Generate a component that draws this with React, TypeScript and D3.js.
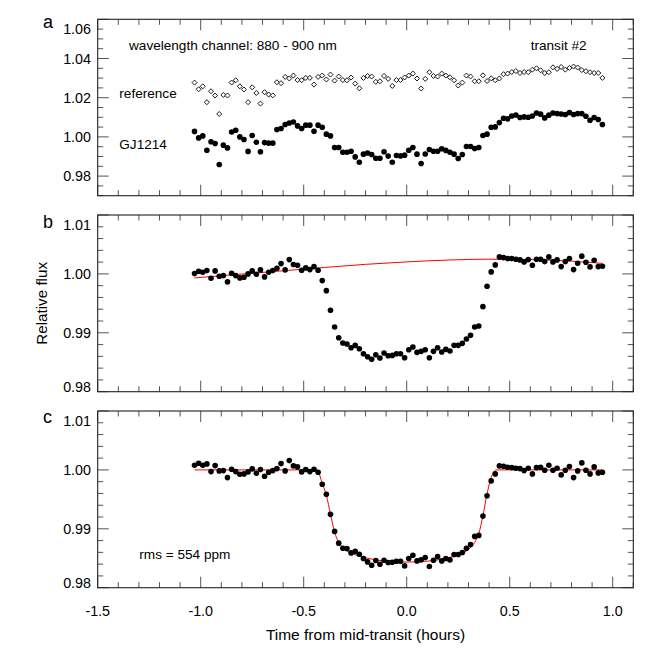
import React from 'react';
import * as d3 from 'd3';

// ---------- data ----------
const TIME = [
  -1.03, -1.01, -0.99, -0.97, -0.95, -0.93, -0.91, -0.89, -0.87, -0.85,
  -0.83, -0.81, -0.79, -0.77, -0.75, -0.73, -0.71, -0.69, -0.67, -0.65,
  -0.63, -0.61, -0.59, -0.57, -0.55, -0.53, -0.51, -0.49, -0.47, -0.45,
  -0.43, -0.41, -0.39, -0.37, -0.35, -0.33, -0.31, -0.29, -0.27, -0.25,
  -0.23, -0.21, -0.19, -0.17, -0.15, -0.13, -0.11, -0.09, -0.07, -0.05,
  -0.03, -0.01, 0.01, 0.03, 0.05, 0.07, 0.09, 0.11, 0.13, 0.15,
  0.17, 0.19, 0.21, 0.23, 0.25, 0.27, 0.29, 0.31, 0.33, 0.35,
  0.37, 0.39, 0.41, 0.43, 0.45, 0.47, 0.49, 0.51, 0.53, 0.55,
  0.57, 0.59, 0.61, 0.63, 0.65, 0.67, 0.69, 0.71, 0.73, 0.75,
  0.77, 0.79, 0.81, 0.83, 0.85, 0.87, 0.89, 0.91, 0.93, 0.95,
];

const REFERENCE_FLUX = [
  1.0277, 1.0243, 1.0258, 1.0177, 1.0233, 1.0211, 1.0117, 1.0214, 1.0211, 1.0277,
  1.0289, 1.0258, 1.0242, 1.0177, 1.0253, 1.0224, 1.0170, 1.0228, 1.0216, 1.0212,
  1.0279, 1.0274, 1.0306, 1.0298, 1.0313, 1.0290, 1.0289, 1.0301, 1.0301, 1.0267,
  1.0306, 1.0313, 1.0293, 1.0318, 1.0287, 1.0308, 1.0290, 1.0289, 1.0303, 1.0272,
  1.0248, 1.0301, 1.0311, 1.0308, 1.0281, 1.0284, 1.0311, 1.0296, 1.0260, 1.0290,
  1.0290, 1.0303, 1.0313, 1.0323, 1.0298, 1.0247, 1.0296, 1.0330, 1.0311, 1.0308,
  1.0323, 1.0313, 1.0304, 1.0289, 1.0262, 1.0277, 1.0313, 1.0308, 1.0284, 1.0284,
  1.0314, 1.0285, 1.0299, 1.0289, 1.0298, 1.0320, 1.0323, 1.0331, 1.0336, 1.0326,
  1.0331, 1.0330, 1.0343, 1.0350, 1.0340, 1.0326, 1.0330, 1.0355, 1.0347, 1.0357,
  1.0343, 1.0352, 1.0359, 1.0354, 1.0341, 1.0335, 1.0330, 1.0326, 1.0326, 1.0301,
];

const GJ1214_RAW = [
  1.0028, 0.9995, 1.0005, 0.9932, 0.9975, 0.9966, 0.9859, 0.9958, 0.9944, 1.0025,
  1.0034, 1.0000, 0.9987, 0.9926, 1.0007, 0.9973, 0.9924, 0.9971, 0.9968, 0.9968,
  1.0038, 1.0043, 1.0063, 1.0071, 1.0076, 1.0056, 1.0043, 1.0060, 1.0060, 1.0029,
  1.0060, 1.0049, 1.0014, 1.0005, 0.9946, 0.9946, 0.9922, 0.9922, 0.9927, 0.9898,
  0.9871, 0.9912, 0.9918, 0.9910, 0.9891, 0.9891, 0.9924, 0.9902, 0.9871, 0.9905,
  0.9903, 0.9907, 0.9932, 0.9946, 0.9912, 0.9864, 0.9913, 0.9936, 0.9927, 0.9927,
  0.9939, 0.9931, 0.9922, 0.9912, 0.9890, 0.9910, 0.9951, 0.9951, 0.9941, 0.9946,
  1.0007, 1.0014, 1.0049, 1.0051, 1.0073, 1.0095, 1.0092, 1.0107, 1.0112, 1.0099,
  1.0102, 1.0100, 1.0107, 1.0122, 1.0116, 1.0097, 1.0111, 1.0122, 1.0119, 1.0117,
  1.0114, 1.0124, 1.0114, 1.0119, 1.0119, 1.0105, 1.0085, 1.0099, 1.0089, 1.0063,
];

const RELATIVE_FLUX = [
  1.00005, 1.00046, 1.00029, 1.00056, 0.99927, 1.00051, 0.99961, 0.99971, 0.99864, 1.00012,
  0.99971, 0.99932, 0.99944, 1.00000, 1.00051, 0.99995, 1.00068, 0.99949, 1.00029, 1.00056,
  1.00097, 1.00175, 1.00068, 1.00243, 1.00158, 1.00148, 1.00063, 1.00102, 1.00073, 1.00124,
  1.00063, 0.99886, 0.99716, 0.99383, 0.99099, 0.98917, 0.98827, 0.98810, 0.98747, 0.98787,
  0.98730, 0.98645, 0.98594, 0.98549, 0.98628, 0.98571, 0.98656, 0.98611, 0.98616, 0.98645,
  0.98645, 0.98577, 0.98713, 0.98759, 0.98668, 0.98685, 0.98713, 0.98577, 0.98685, 0.98747,
  0.98673, 0.98719, 0.98690, 0.98787, 0.98787, 0.98821, 0.98895, 0.98957, 0.99099, 0.99116,
  0.99444, 0.99791, 1.00034, 1.00153, 1.00289, 1.00277, 1.00260, 1.00260, 1.00250, 1.00238,
  1.00204, 1.00243, 1.00148, 1.00250, 1.00250, 1.00209, 1.00289, 1.00204, 1.00238, 1.00124,
  1.00209, 1.00260, 1.00073, 1.00182, 1.00301, 1.00199, 1.00119, 1.00233, 1.00124, 1.00131,
];

const DETRENDED_FLUX = [
  1.00080, 1.00114, 1.00080, 1.00102, 0.99971, 1.00073, 0.99983, 0.99988, 0.99869, 1.00012,
  0.99971, 0.99927, 0.99932, 0.99966, 1.00017, 0.99944, 1.00005, 0.99893, 0.99961, 0.99988,
  1.00022, 1.00107, 0.99983, 1.00158, 1.00068, 1.00051, 0.99966, 1.00005, 0.99971, 1.00012,
  0.99961, 0.99756, 0.99586, 0.99245, 0.98956, 0.98756, 0.98671, 0.98666, 0.98591, 0.98620,
  0.98569, 0.98496, 0.98438, 0.98382, 0.98462, 0.98399, 0.98467, 0.98428, 0.98433, 0.98450,
  0.98450, 0.98370, 0.98496, 0.98552, 0.98455, 0.98472, 0.98513, 0.98359, 0.98467, 0.98530,
  0.98455, 0.98496, 0.98472, 0.98564, 0.98564, 0.98598, 0.98671, 0.98734, 0.98871, 0.98888,
  0.99216, 0.99562, 0.99813, 0.99932, 1.00068, 1.00063, 1.00046, 1.00039, 1.00029, 1.00022,
  0.99988, 1.00029, 0.99932, 1.00039, 1.00046, 0.99995, 1.00080, 0.99995, 1.00029, 0.99915,
  0.99995, 1.00056, 0.99869, 0.99983, 1.00119, 0.99995, 0.99932, 1.00051, 0.99949, 0.99961,
];

// baseline trend (red line, panel b)
const BASELINE_T = [-1.03, -0.8, -0.6, -0.4, -0.2, 0.0, 0.2, 0.4, 0.6, 0.8, 0.95];
const BASELINE_V = [0.99932, 0.99997, 1.00053, 1.00109, 1.00162, 1.00204, 1.00235, 1.0025, 1.00245, 1.00216, 1.00179];

// transit model (red line, panel c)
const MODEL_T = [-1.03, -0.435, -0.41, -0.39, -0.37, -0.35, -0.33, -0.30, -0.25, -0.19, -0.10, 0.0,
  0.10, 0.19, 0.25, 0.30, 0.33, 0.35, 0.37, 0.39, 0.41, 0.435, 0.95];
const MODEL_V = [1.0, 1.0, 0.9977, 0.9957, 0.9925, 0.9894, 0.9877, 0.9865, 0.9856, 0.985, 0.9845, 0.98435,
  0.9845, 0.985, 0.9856, 0.9865, 0.9877, 0.9892, 0.9922, 0.9959, 0.9987, 1.0, 1.0];

const X_TICKS = [-1.5, -1.0, -0.5, 0.0, 0.5, 1.0];
const Y_TICKS_A = [0.98, 1.0, 1.02, 1.04, 1.06];
const Y_TICKS_BC = [0.98, 0.99, 1.0, 1.01];

// ---------- layout ----------
const FONT = "'Liberation Sans', Arial, Helvetica, sans-serif";
const LEFT = 97.7;
const RIGHT = 633.3;
const MAJOR = 11;
const MINOR = 5.5;
const DOT_R = 2.8;

type PanelDef = {
  letter: string;
  top: number;
  bottom: number;
  domain: [number, number];
  ticks: number[];
  minorStep: number;
  letterY: number;
};

const PANELS: PanelDef[] = [
  { letter: 'a', top: 19.3, bottom: 195.7, domain: [0.97, 1.06], ticks: Y_TICKS_A, minorStep: 0.005, letterY: 28 },
  { letter: 'b', top: 215, bottom: 391.7, domain: [0.98, 1.01], ticks: Y_TICKS_BC, minorStep: 0.002, letterY: 227.5 },
  { letter: 'c', top: 411, bottom: 587.7, domain: [0.98, 1.01], ticks: Y_TICKS_BC, minorStep: 0.002, letterY: 423 },
];

function stepValues(lo: number, hi: number, step: number): number[] {
  const n = Math.round((hi - lo) / step);
  return d3.range(n + 1).map((k) => +(lo + k * step).toFixed(6));
}

function diamond(cx: number, cy: number, s: number) {
  return `M${cx},${cy - s}L${cx + s},${cy}L${cx},${cy + s}L${cx - s},${cy}Z`;
}

export default function App() {
  const x = d3.scaleLinear().domain([-1.5, 1.1]).range([LEFT, RIGHT]);
  const xMinor = stepValues(-1.5, 1.1, 0.1);
  const isMajorX = (v: number) => X_TICKS.some((m) => Math.abs(m - v) < 1e-6);

  const renderPanel = (p: PanelDef, idx: number) => {
    const y = d3.scaleLinear().domain(p.domain).range([p.bottom, p.top]);
    const yMinor = stepValues(p.domain[0], p.domain[1], p.minorStep);
    const isMajorY = (v: number) => p.ticks.some((m) => Math.abs(m - v) < 1e-6);
    const ticks: JSX.Element[] = [];
    xMinor.forEach((v, i) => {
      const len = isMajorX(v) ? MAJOR : MINOR;
      const xx = x(v);
      ticks.push(<line key={`xb${i}`} x1={xx} x2={xx} y1={p.bottom} y2={p.bottom - len} />);
      ticks.push(<line key={`xt${i}`} x1={xx} x2={xx} y1={p.top} y2={p.top + len} />);
    });
    yMinor.forEach((v, i) => {
      const len = isMajorY(v) ? MAJOR : MINOR;
      const yy = y(v);
      ticks.push(<line key={`yl${i}`} x1={LEFT} x2={LEFT + len} y1={yy} y2={yy} />);
      ticks.push(<line key={`yr${i}`} x1={RIGHT} x2={RIGHT - len} y1={yy} y2={yy} />);
    });

    const lineGen = d3
      .line<number>()
      .x((_, i) => x(idx === 1 ? BASELINE_T[i] : MODEL_T[i]))
      .y((v) => y(v))
      .curve(d3.curveMonotoneX);

    return (
      <g key={p.letter}>
        <text x={43} y={p.letterY} fontSize={18} fontFamily={FONT}>
          {p.letter}
        </text>
        <g stroke="#555" strokeWidth={1}>{ticks}</g>
        <rect x={LEFT} y={p.top} width={RIGHT - LEFT} height={p.bottom - p.top} fill="none" stroke="#222" strokeWidth={1.1} />
        {p.ticks.map((v) => {
          const cy = Math.max(p.top + 9.5, Math.min(p.bottom - 5, y(v)));
          return (
            <text key={`yl${v}`} x={91} y={cy + 5} textAnchor="end" fontSize={14.3} fontFamily={FONT}>
              {v.toFixed(2)}
            </text>
          );
        })}
        {idx === 0 && (
          <g>
            {TIME.map((t, i) => (
              <path key={`r${i}`} d={diamond(x(t), y(REFERENCE_FLUX[i]), 2.5)} fill="white" stroke="black" strokeWidth={0.9} />
            ))}
            {TIME.map((t, i) => (
              <circle key={`g${i}`} cx={x(t)} cy={y(GJ1214_RAW[i])} r={DOT_R} fill="black" />
            ))}
            <text x={129} y={49.5} fontSize={13.6} fontFamily={FONT}>wavelength channel: 880 - 900 nm</text>
            <text x={530.7} y={49.5} fontSize={13.6} fontFamily={FONT}>transit #2</text>
            <text x={119.3} y={98.3} fontSize={13.6} fontFamily={FONT}>reference</text>
            <text x={119.3} y={149} fontSize={13.6} fontFamily={FONT}>GJ1214</text>
          </g>
        )}
        {idx === 1 && (
          <g>
            <path d={lineGen(BASELINE_V) || ''} fill="none" stroke="red" strokeWidth={1} />
            {TIME.map((t, i) => (
              <circle key={`b${i}`} cx={x(t)} cy={y(RELATIVE_FLUX[i])} r={DOT_R} fill="black" />
            ))}
          </g>
        )}
        {idx === 2 && (
          <g>
            <path d={lineGen(MODEL_V) || ''} fill="none" stroke="red" strokeWidth={1} />
            {TIME.map((t, i) => (
              <circle key={`c${i}`} cx={x(t)} cy={y(DETRENDED_FLUX[i])} r={DOT_R} fill="black" />
            ))}
            <text x={139.3} y={558.5} fontSize={13.6} fontFamily={FONT}>rms = 554 ppm</text>
          </g>
        )}
      </g>
    );
  };

  return (
    <svg
      width={653}
      height={653}
      viewBox="0 0 653 653"
      style={{ position: 'absolute', left: 0, top: 0, background: 'white' }}
    >
      <rect x={0} y={0} width={653} height={653} fill="white" />
      {PANELS.map((p, i) => renderPanel(p, i))}
      {X_TICKS.map((v) => (
        <text key={`xl${v}`} x={x(v)} y={615.5} textAnchor="middle" fontSize={14.3} fontFamily={FONT}>
          {v.toFixed(1)}
        </text>
      ))}
      <text x={(LEFT + RIGHT) / 2} y={640} textAnchor="middle" fontSize={15.5} fontFamily={FONT}>
        Time from mid-transit (hours)
      </text>
      <text
        transform={`translate(46.5, ${(215 + 391.7) / 2}) rotate(-90)`}
        textAnchor="middle"
        fontSize={15.2}
        fontFamily={FONT}
      >
        Relative flux
      </text>
    </svg>
  );
}
